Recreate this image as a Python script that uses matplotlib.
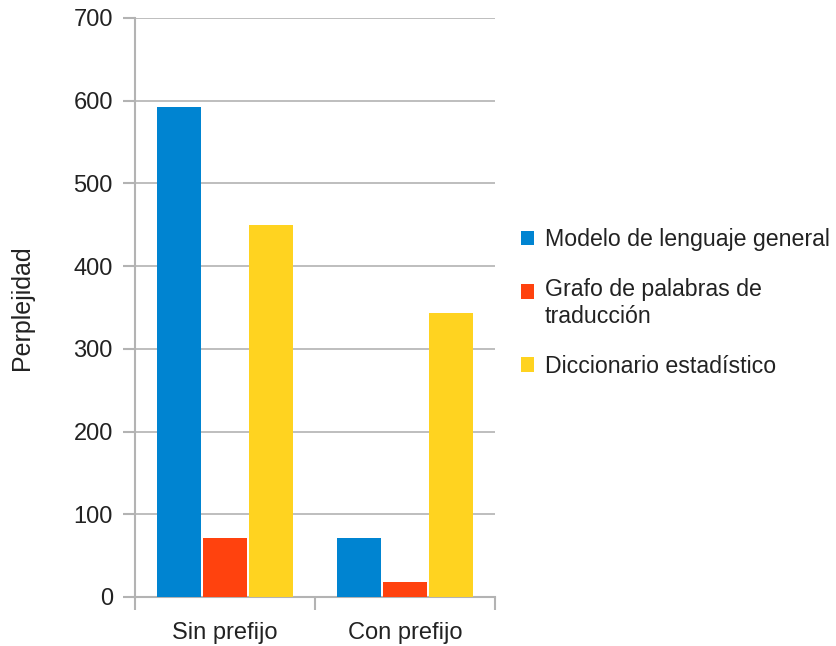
import numpy as np
import matplotlib.pyplot as plt
from matplotlib.patches import Patch, Rectangle
from matplotlib.legend_handler import HandlerPatch

plt.rcParams['font.family'] = ['Liberation Sans', 'DejaVu Sans']

categorias = ['Sin prefijo', 'Con prefijo']
series = ['Modelo de lenguaje general', 'Grafo de palabras de\ntraducción', 'Diccionario estadístico']
modelo = [592, 71]
grafo = [71, 18]
diccionario = [450, 343]
colores = ['#0084d1', '#ff420e', '#ffd320']

fig = plt.figure(figsize=(8.37, 6.46), dpi=100)
ax = fig.add_axes([0.1613, 0.0759, 0.4301, 0.8963])

x = np.arange(len(categorias))
paso = 0.2556
for i, vals in enumerate([modelo, grafo, diccionario]):
    ax.bar(x + (i - 1) * paso, vals, width=paso - 0.01, color=colores[i], zorder=3)

ax.set_xlim(-0.5, 1.5)
ax.set_ylim(0, 700)
ax.set_yticks(range(0, 701, 100))
ax.set_xticks(x)
ax.set_xticklabels(categorias)
ax.set_xticks([-0.5, 0.5, 1.5], minor=True)
ax.tick_params(axis='x', which='major', length=0, pad=18, labelsize=17, colors='#222222')
ax.tick_params(axis='x', which='minor', length=9, width=1.5, color='#b3b3b3')
ax.tick_params(axis='y', length=9, width=1.5, color='#b3b3b3', labelsize=17, labelcolor='#222222', pad=7)
ax.yaxis.grid(True, color='#b3b3b3', linewidth=1.2, zorder=0)
for s in ['top', 'right']:
    ax.spines[s].set_visible(False)
for s in ['left', 'bottom']:
    ax.spines[s].set_color('#b3b3b3')
    ax.spines[s].set_linewidth(1.5)
ax.set_ylabel('Perplejidad', fontsize=18, color='#222222', labelpad=28)


# el cuadrito de una etiqueta de dos lineas va con la primera linea
def cuadro_arriba(legend, orig_handle, xdescent, ydescent, width, height, fontsize):
    return Rectangle((-xdescent, -ydescent + 0.52 * fontsize), width, height)


handles = [Patch(facecolor=c, edgecolor='none') for c in colores]
leg = fig.legend(handles, series, loc='center left', bbox_to_anchor=(0.597, 0.531), frameon=False,
                 fontsize=16.7, handlelength=0.6, handleheight=0.6, handletextpad=0.45,
                 labelspacing=1.15, labelcolor='#222222',
                 handler_map={handles[1]: HandlerPatch(patch_func=cuadro_arriba)})
for t in leg.get_texts():
    t.set_linespacing(1.25)

fig.savefig('out.png')
